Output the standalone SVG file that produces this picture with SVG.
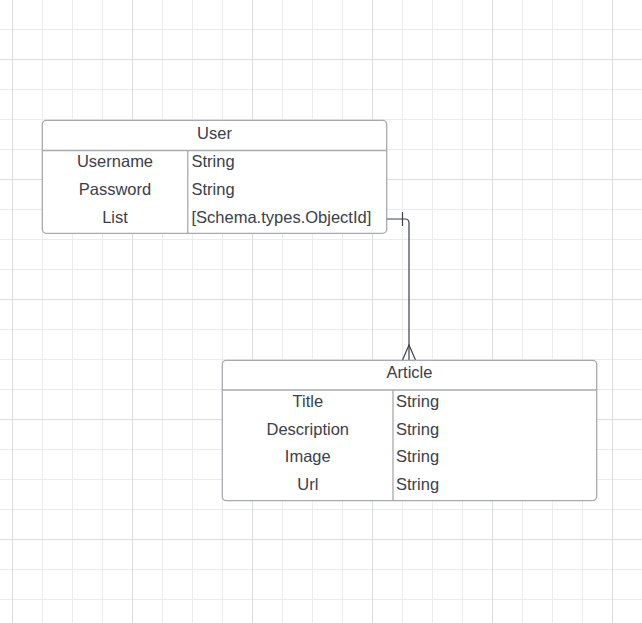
<svg xmlns="http://www.w3.org/2000/svg" width="642" height="623" viewBox="0 0 642 623">
<style>
.grid{stroke:#ececec;stroke-width:1;fill:none}
.grid2{stroke:#dcdcdc;stroke-width:1;fill:none}
.box{fill:#ffffff;stroke:#a7aaae;stroke-width:1.3}
.div{stroke:#a7aaae;stroke-width:1.3;fill:none}
.t{font-family:"Liberation Sans",Arial,sans-serif;font-size:16.5px;fill:#3b4049}
.c{text-anchor:middle}
.conn{stroke:#3b4049;stroke-width:1.2;fill:none}
</style>
<rect width="642" height="623" fill="#ffffff"/>
<g id="grid">
<path class="grid" d="M42.5,0V623M72.5,0V623M102.5,0V623M162.5,0V623M192.5,0V623M222.5,0V623M282.5,0V623M312.5,0V623M342.5,0V623M402.5,0V623M432.5,0V623M462.5,0V623M522.5,0V623M552.5,0V623M582.5,0V623M0,29.5H642M0,89.5H642M0,119.5H642M0,149.5H642M0,209.5H642M0,239.5H642M0,269.5H642M0,329.5H642M0,359.5H642M0,389.5H642M0,449.5H642M0,479.5H642M0,509.5H642M0,569.5H642M0,599.5H642"/>
<path class="grid2" d="M12.5,0V623M132.5,0V623M252.5,0V623M372.5,0V623M492.5,0V623M612.5,0V623M0,59.5H642M0,179.5H642M0,299.5H642M0,419.5H642M0,539.5H642"/>
</g>
<g id="connectors">
<path class="conn" d="M387,219H405Q409,219 409,223V360"/>
<path class="conn" d="M402.5,212V226"/>
<path class="conn" d="M402.5,360L409,345L415.5,360"/>
</g>
<g id="user">
<rect class="box" x="42.3" y="120.3" width="344.4" height="113" rx="4"/>
<path class="div" d="M42.3,150.5H386.7M187.8,150.5V233.3"/>
<text class="t c" x="214.5" y="139">User</text>
<text class="t c" x="115" y="167.3">Username</text>
<text class="t" x="191.5" y="167.3">String</text>
<text class="t c" x="115" y="195">Password</text>
<text class="t" x="191.5" y="195">String</text>
<text class="t c" x="115" y="222.8">List</text>
<text class="t" x="191.5" y="222.8">[Schema.types.ObjectId]</text>
</g>
<g id="article">
<rect class="box" x="222.3" y="360.3" width="374.4" height="140.3" rx="4"/>
<path class="div" d="M222.3,390H596.7M393,390V500.6"/>
<text class="t c" x="409.5" y="378">Article</text>
<text class="t c" x="307.8" y="406.7">Title</text>
<text class="t" x="396" y="406.7">String</text>
<text class="t c" x="307.8" y="434.5">Description</text>
<text class="t" x="396" y="434.5">String</text>
<text class="t c" x="307.8" y="462.2">Image</text>
<text class="t" x="396" y="462.2">String</text>
<text class="t c" x="307.8" y="490">Url</text>
<text class="t" x="396" y="490">String</text>
</g>
</svg>
